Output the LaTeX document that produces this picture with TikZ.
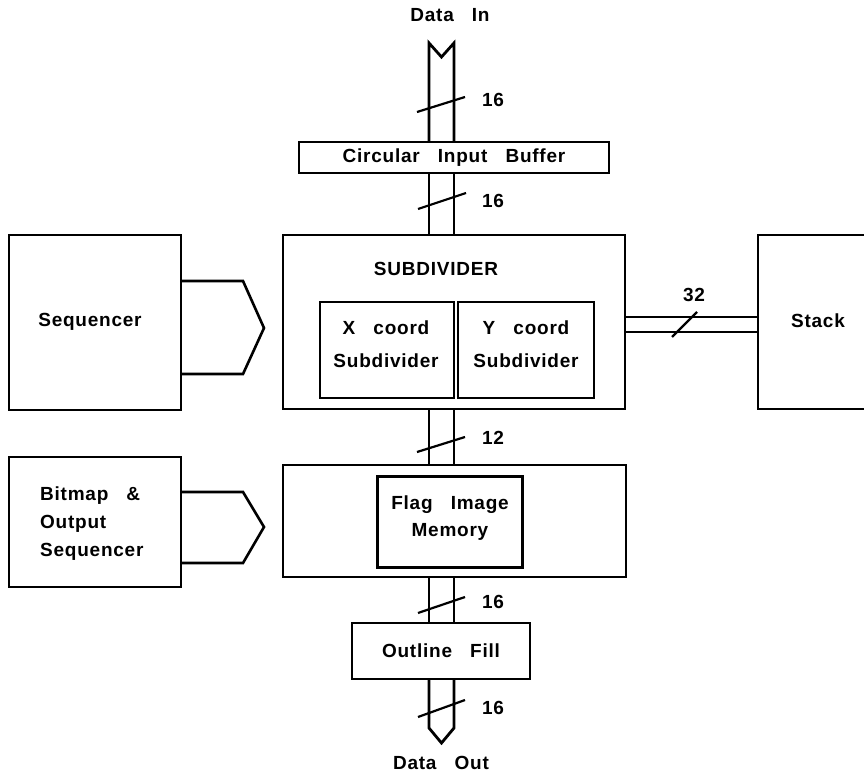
\documentclass[tikz,border=0pt]{standalone}
\usepackage{fontspec}
\setmainfont{Liberation Sans}[LetterSpace=4,WordSpace=3]
\begin{document}
\begin{tikzpicture}[x=1pt,y=-1pt,
  every node/.style={font=\fontsize{19}{28}\selectfont\bfseries},
  box/.style={draw,line width=2.6pt,inner sep=0pt,outer sep=0pt,anchor=north west},
  thinbox/.style={draw,line width=1.6pt,inner sep=0pt,outer sep=0pt,anchor=north west},
  thickbox/.style={draw,line width=3pt,inner sep=0pt,outer sep=0pt,anchor=north west},
  bus/.style={line width=2.8pt},
  tick/.style={line width=2.2pt},
  txt/.style={inner sep=0pt,align=center}]
\clip (0,0) rectangle (864,776);
% boxes
\node[box,minimum width=310pt,minimum height=31pt] (buf) at (299,142) {};
\node[txt] (buft) at (454,158) {Circular Input Buffer};
\node[box,minimum width=342pt,minimum height=174pt] (sub) at (283,235) {};
\node[txt] (subt) at (436,269) {SUBDIVIDER};
\node[thinbox,minimum width=134pt,minimum height=96pt] (xc) at (320,302) {};
\node[txt,font=\fontsize{19}{33}\selectfont\bfseries] (xct) at (386,344) {X coord\\Subdivider};
\node[thinbox,minimum width=136pt,minimum height=96pt] (yc) at (458,302) {};
\node[txt,font=\fontsize{19}{33}\selectfont\bfseries] (yct) at (526,344) {Y coord\\Subdivider};
\node[box,minimum width=120pt,minimum height=174pt] (stack) at (758,235) {};
\node[txt] (stackt) at (818,321) {Stack};
\node[box,minimum width=172pt,minimum height=175pt] (seq) at (9,235) {};
\node[txt] (seqt) at (90,322) {Sequencer};
\node[box,minimum width=343pt,minimum height=112pt] (flag) at (283,465) {};
\node[thickbox,minimum width=145pt,minimum height=91pt] (flagin) at (377,476) {};
\node[txt,font=\fontsize{19}{27}\selectfont\bfseries] (flagt) at (450,518) {Flag Image\\Memory};
\node[box,minimum width=172pt,minimum height=130pt] (bmp) at (9,457) {};
\node[txt,align=left,anchor=west] (bmpt) at (40,524) {Bitmap \&\\Output\\Sequencer};
\node[box,minimum width=178pt,minimum height=56pt] (fill) at (352,623) {};
\node[txt] (fillt) at (441,651) {Outline Fill};
\node[txt] (din) at (450,15) {Data In};
\node[txt] (dout) at (441,763) {Data Out};
% pentagon connectors
\draw[line width=2.6pt,line join=miter] (seq.east |- 0,281) -- (243,281) -- (264,328) -- (243,374) -- (seq.east |- 0,374);
\draw[line width=2.6pt,line join=miter] (bmp.east |- 0,492) -- (243,492) -- (264,527) -- (243,563) -- (bmp.east |- 0,563);
% buses
\draw[bus,line join=miter] (429,0 |- buf.north) -- (429,43) -- (441.5,57) -- (454,43) -- (454,0 |- buf.north);
\draw[bus] (429,0 |- buf.south) -- (429,0 |- sub.north);
\draw[bus] (454,0 |- buf.south) -- (454,0 |- sub.north);
\draw[bus] (429,0 |- sub.south) -- (429,0 |- flag.north);
\draw[bus] (454,0 |- sub.south) -- (454,0 |- flag.north);
\draw[bus] (429,0 |- flag.south) -- (429,0 |- fill.north);
\draw[bus] (454,0 |- flag.south) -- (454,0 |- fill.north);
\draw[bus,line join=miter] (429,0 |- fill.south) -- (429,728) -- (441.5,743) -- (454,728) -- (454,0 |- fill.south);
\draw[bus] (sub.east |- 0,317) -- (stack.west |- 0,317);
\draw[bus] (sub.east |- 0,332) -- (stack.west |- 0,332);
% ticks and widths
\draw[tick] (417,112) -- (465,97);
\node[txt] (w1) at (493,100) {16};
\draw[tick] (418,209) -- (466,193);
\node[txt] (w2) at (493,201) {16};
\draw[tick] (417,452) -- (465,437);
\node[txt] (w3) at (493,438) {12};
\draw[tick] (418,613) -- (465,597);
\node[txt] (w4) at (493,602) {16};
\draw[tick] (418,717) -- (465,700);
\node[txt] (w5) at (493,708) {16};
\draw[tick] (672,337) -- (697,312);
\node[txt] (w6) at (694,295) {32};
\end{tikzpicture}
\end{document}
